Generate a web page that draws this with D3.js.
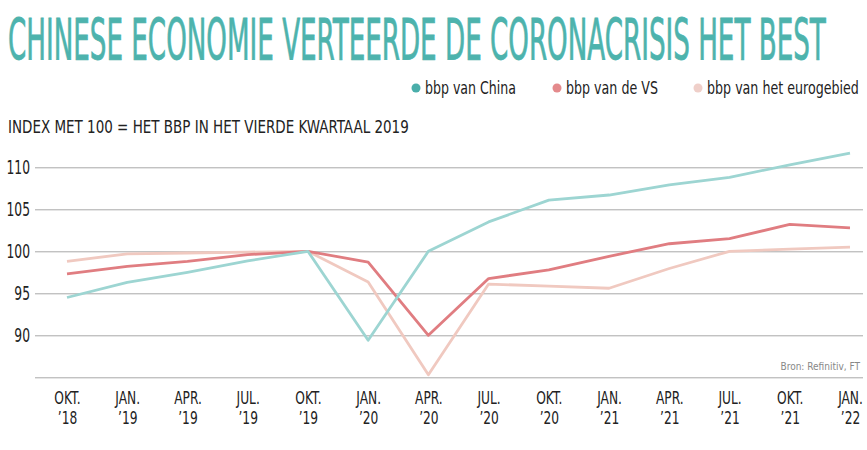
<!DOCTYPE html>
<html><head><meta charset="utf-8">
<script src="https://cdn.jsdelivr.net/npm/d3@7"></script>
<style>
body{margin:0;background:#fff;}
svg{display:block;}
text{font-family:"Liberation Sans Narrow","DejaVu Sans Condensed","Roboto Condensed",Roboto,sans-serif;}
</style></head>
<body>
<svg id="c" width="867" height="450"></svg>
<script>
const months = ["OKT.","JAN.","APR.","JUL.","OKT.","JAN.","APR.","JUL.","OKT.","JAN.","APR.","JUL.","OKT.","JAN."];
const years  = ["’18","’19","’19","’19","’19","’20","’20","’20","’20","’21","’21","’21","’21","’22"];
const china = [94.5,96.3,97.5,98.85,100,89.4,100,103.5,106.1,106.7,107.9,108.8,110.3,111.7];
const vs    = [97.3,98.2,98.8,99.6,100,98.7,90.0,96.75,97.8,99.4,100.9,101.5,103.2,102.8];
const euro  = [98.8,99.7,99.8,99.9,100,96.35,85.3,96.1,95.85,95.6,97.95,100.0,100.25,100.5];
const yTicks = [90,95,100,105,110];
const seriesNames = ["bbp van China","bbp van de VS","bbp van het eurogebied"];

const svg = d3.select("#c");
const idx = months.map((m,i)=>i);
const x = d3.scalePoint().domain(idx).range([67,850]);
const y = d3.scaleLinear().domain([85,110]).range([377.3,167.3]);

// squeeze a text horizontally (anchored at its x,y) to a target width
function fit(sel, x0, y0, w, anchor){
  const n = sel.node();
  const nat = n.getComputedTextLength();
  const s = Math.min(1, w / nat);
  sel.attr("x",0).attr("y",0).attr("text-anchor",anchor||"start")
     .attr("transform",`translate(${x0},${y0}) scale(${s},1)`);
  return sel;
}

// title
fit(svg.append("text").style("font-size","57px").style("fill","#4db3ad")
  .style("stroke","#4db3ad").style("stroke-width","0.8")
  .text("CHINESE ECONOMIE VERTEERDE DE CORONACRISIS HET BEST"), 8, 60, 818);

// legend
const legCols = ["#4aaeaa","#e48a8c","#efcfc9"];
const legX = [416,557,698];
const legW = [91,92,152];
seriesNames.forEach((n,i)=>{
  svg.append("circle").attr("cx",legX[i]).attr("cy",88).attr("r",4.5).attr("fill",legCols[i]);
  fit(svg.append("text").style("font-size","17px").style("fill","#222").text(n), legX[i]+9, 94, legW[i]);
});

// subtitle
fit(svg.append("text").style("font-size","17px").style("fill","#222")
  .text("INDEX MET 100 = HET BBP IN HET VIERDE KWARTAAL 2019"), 8, 133, 401);

// gridlines
const grid = d3.axisLeft(y).tickValues(yTicks.concat([85])).tickSize(-828).tickFormat("");
const gg = svg.append("g").attr("transform","translate(35,0)").call(grid);
gg.select(".domain").remove();
gg.selectAll("line").attr("stroke","#a8a8a8").attr("stroke-width",1);

const yAxis = d3.axisLeft(y).tickValues(yTicks).tickSize(0).tickPadding(5).tickFormat(d3.format("d"));
const gy = svg.append("g").attr("transform","translate(35,0)").call(yAxis);
gy.select(".domain").remove();
gy.selectAll("text").style("font-size","19px").style("fill","#222")
  .attr("transform","translate(-5,0) scale(0.72,1)").attr("x",0);

// x labels
const xAxis = d3.axisBottom(x).tickSize(0).tickFormat("");
const gx = svg.append("g").attr("transform","translate(0,377.3)").call(xAxis);
gx.select(".domain").remove();
gx.selectAll(".tick").each(function(d){
  const t = d3.select(this).append("text").attr("text-anchor","middle")
    .attr("transform","scale(0.8,1)")
    .style("fill","#222").style("font-size","17px");
  t.append("tspan").attr("x",0).attr("y",27).text(months[d]);
  t.append("tspan").attr("x",0).attr("y",47).text(years[d]);
});

// source
fit(svg.append("text").style("font-size","10px").style("fill","#888")
  .text("Bron: Refinitiv, FT"), 860, 370, 83, "end");

// lines
const line = d3.line().x((d,i)=>x(i)).y(d=>y(d));
const lineCols = ["#f0c9c0","#e07d81","#9dd5d2"];
[euro,vs,china].forEach((s,k)=>{
  svg.append("path").datum(s).attr("d",line).attr("fill","none")
    .attr("stroke",lineCols[k]).attr("stroke-width",2.8).attr("stroke-linejoin","round");
});
</script>
</body></html>
